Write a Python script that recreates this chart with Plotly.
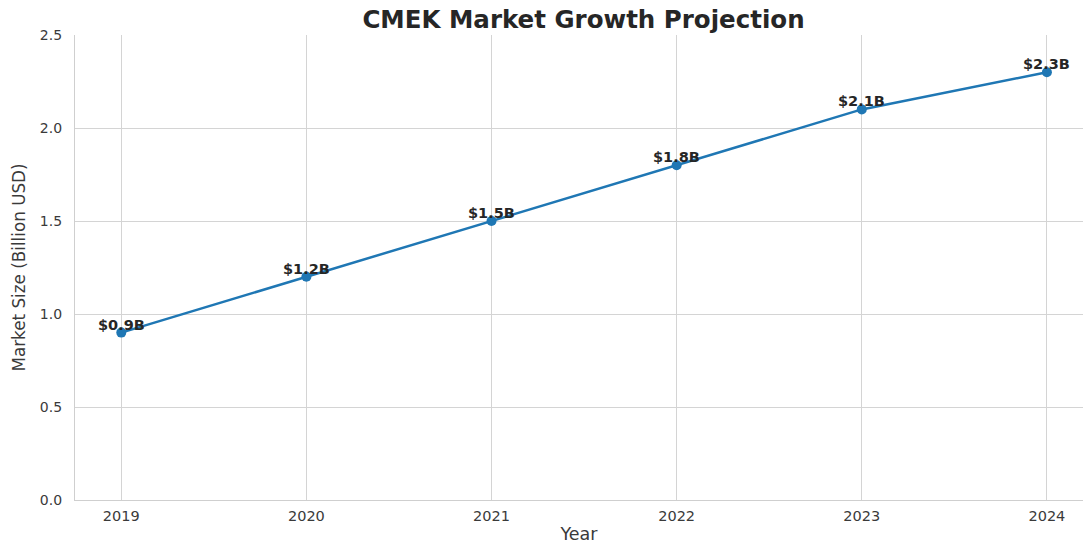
import plotly.graph_objects as go

years = [2019, 2020, 2021, 2022, 2023, 2024]
market_size = [0.9, 1.2, 1.5, 1.8, 2.1, 2.3]
labels = ["$0.9B", "$1.2B", "$1.5B", "$1.8B", "$2.1B", "$2.3B"]
y_ticks = [0.0, 0.5, 1.0, 1.5, 2.0, 2.5]

FONT = "DejaVu Sans"
fig = go.Figure()
fig.add_trace(go.Scatter(
    x=years, y=market_size, mode="lines+markers",
    line=dict(color="#1f77b4", width=2.5),
    marker=dict(color="#1f77b4", size=10),
    hoverinfo="skip", showlegend=False,
))
for x, y, t in zip(years, market_size, labels):
    fig.add_annotation(x=x, y=y, text="<b>%s</b>" % t, showarrow=False,
                       yshift=8, font=dict(family=FONT, size=14.5, color="#262626"))

fig.update_layout(
    width=1083, height=544,
    margin=dict(l=75, r=0, t=35, b=44),
    paper_bgcolor="white", plot_bgcolor="white",
    title=dict(text="<b>CMEK Market Growth Projection</b>", x=583.5/1083, xanchor="center",
               y=1 - 19/544, yanchor="middle",
               font=dict(family=FONT, size=24.5, color="#262626")),
    font=dict(family=FONT, color="#3a3a3a"),
    xaxis=dict(range=[2018.75, 2024.195], tickvals=years, ticktext=[str(y) for y in years],
               showgrid=True, gridcolor="#d4d4d4", gridwidth=1,
               showline=True, linecolor="#cfcfcf", linewidth=1.2, zeroline=False,
               ticks="", ticklabelstandoff=2, tickfont=dict(size=14.5, color="#3a3a3a"),
               title=dict(text="Year", font=dict(size=17.5, color="#3a3a3a"), standoff=9)),
    yaxis=dict(range=[0, 2.5], tickvals=y_ticks, ticktext=["%.1f" % v for v in y_ticks],
               showgrid=True, gridcolor="#d4d4d4", gridwidth=1,
               showline=True, linecolor="#cfcfcf", linewidth=1.2, zeroline=False,
               ticks="", ticklabelstandoff=9, tickfont=dict(size=14, color="#3a3a3a"),
               title=dict(text="Market Size (Billion USD)", font=dict(size=16.8, color="#3a3a3a"), standoff=9)),
)
fig.write_html("out.html")
